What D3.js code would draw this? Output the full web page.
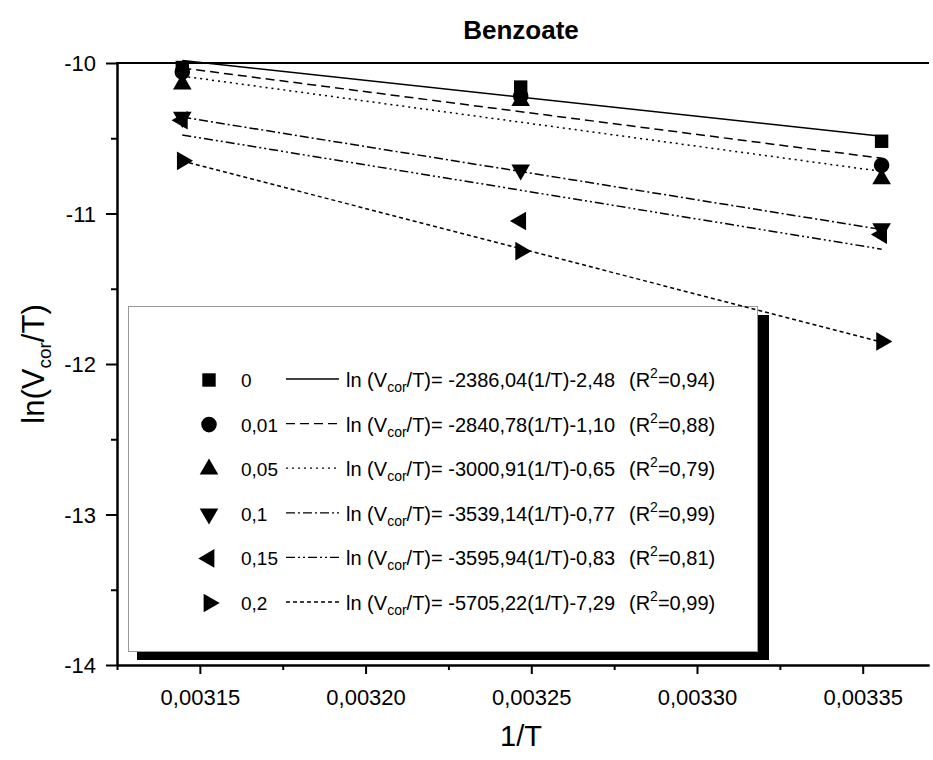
<!DOCTYPE html>
<html><head><meta charset="utf-8">
<script src="https://cdn.jsdelivr.net/npm/d3@7"></script>
<style>body{margin:0;background:#fff}svg{display:block;font-family:"Liberation Sans",Arial,sans-serif}</style>
</head><body><svg id="c" width="933" height="760"></svg>
<script>
// ---- data ----
const invT = [0.0031447, 0.0032468, 0.0033557];
const seriesNames = ["0", "0,01", "0,05", "0,1", "0,15", "0,2"];
const valuesS0 = [-10.03, -10.16, -10.52];
const valuesS1 = [-10.06, -10.22, -10.68];
const valuesS2 = [-10.14, -10.25, -10.77];
const valuesS3 = [-10.36, -10.71, -11.10];
const valuesS4 = [-10.38, -11.05, -11.14];
const valuesS5 = [-10.65, -11.25, -11.85];
const seriesValues = [valuesS0, valuesS1, valuesS2, valuesS3, valuesS4, valuesS5];
const slopes = [-2386.04, -2840.78, -3000.91, -3539.14, -3595.94, -5705.22];
const intercepts = [-2.48, -1.10, -0.65, 0.77, 0.83, 7.29];
const equationTexts = ["-2386,04(1/T)-2,48", "-2840,78(1/T)-1,10", "-3000,91(1/T)-0,65", "-3539,14(1/T)-0,77", "-3595,94(1/T)-0,83", "-5705,22(1/T)-7,29"];
const r2Texts = ["0,94", "0,88", "0,79", "0,99", "0,81", "0,99"];
const xTickValues = [0.00315, 0.00320, 0.00325, 0.00330, 0.00335];
const xTickLabels = ["0,00315", "0,00320", "0,00325", "0,00330", "0,00335"];
const xMinorTicks = [0.003125, 0.003175, 0.003225, 0.003275, 0.003325];
const yTickValues = [-10, -11, -12, -13, -14];
const yTickLabels = ["-10", "-11", "-12", "-13", "-14"];
const yMinorTicks = [-10.5, -11.5, -12.5, -13.5];

// ---- styles ----
const dashes = [null, "9,5", "2,4", "9,3,2,3", "9,3,2,3,2,3", "4,3"];
const symbols = [
  {t: d3.symbolSquare, r: 0, s: 180},
  {t: d3.symbolCircle, r: 0, s: 190},
  {t: d3.symbolTriangle, r: 0, s: 150},
  {t: d3.symbolTriangle, r: 180, s: 150},
  {t: d3.symbolTriangle, r: -90, s: 150},
  {t: d3.symbolTriangle, r: 90, s: 150}
];
const FONT = "'Liberation Sans',Arial,sans-serif";

const svg = d3.select("#c");
const x = d3.scaleLinear().domain([0.003125, 0.00337]).range([117, 929]);
const y = d3.scaleLinear().domain([-14, -10]).range([665, 63]);

// title
svg.append("text").attr("x", 521).attr("y", 39).attr("text-anchor", "middle")
  .attr("font-size", 26).attr("font-weight", "bold").text("Benzoate");

// legend (drawn beneath the data)
const lg = svg.append("g");
lg.append("rect").attr("x", 137).attr("y", 315).attr("width", 632).attr("height", 345).attr("fill", "#000");
lg.append("rect").attr("x", 128.5).attr("y", 306.5).attr("width", 629).attr("height", 345)
  .attr("fill", "#fff").attr("stroke", "#999").attr("stroke-width", 1);
const rowY = d3.scaleLinear().domain([0, 5]).range([380, 603]);
seriesNames.forEach((nm, i) => {
  const ry = rowY(i);
  lg.append("path").attr("d", d3.symbol().type(symbols[i].t).size(symbols[i].s)())
    .attr("transform", `translate(209,${ry}) rotate(${symbols[i].r})`).attr("fill", "#000");
  lg.append("text").attr("x", 241).attr("y", ry + 7).attr("font-size", 19).text(nm);
  lg.append("line").attr("x1", 286).attr("x2", 339).attr("y1", ry - 1).attr("y2", ry - 1)
    .attr("stroke", "#000").attr("stroke-width", 1.3).attr("stroke-dasharray", dashes[i]);
  const t = lg.append("text").attr("x", 346).attr("y", ry + 7).attr("font-size", 20);
  t.append("tspan").text("ln (V");
  t.append("tspan").attr("font-size", 14).attr("dy", 5).text("cor");
  t.append("tspan").attr("dy", -5).text("/T)= " + equationTexts[i]);
  const r = lg.append("text").attr("x", 629).attr("y", ry + 7).attr("font-size", 20);
  r.append("tspan").text("(R");
  r.append("tspan").attr("font-size", 14).attr("dy", -9).text("2");
  r.append("tspan").attr("dy", 9).text("=" + r2Texts[i] + ")");
});

// fit lines
const line = d3.line().x(d => x(d[0])).y(d => y(d[1]));
slopes.forEach((m, i) => {
  const xs = [invT[0], invT[invT.length - 1]];
  svg.append("path").attr("d", line(xs.map(v => [v, m * v + intercepts[i]])))
    .attr("fill", "none").attr("stroke", "#000").attr("stroke-width", 1.5)
    .attr("stroke-dasharray", dashes[i]);
});

// points
seriesValues.forEach((vals, i) => {
  svg.append("g").selectAll("path").data(vals).join("path")
    .attr("d", d3.symbol().type(symbols[i].t).size(symbols[i].s)())
    .attr("transform", (d, j) => `translate(${x(invT[j])},${y(d)}) rotate(${symbols[i].r})`)
    .attr("fill", "#000");
});

// axes
const xAxis = svg.append("g").attr("transform", "translate(0,665)")
  .call(d3.axisBottom(x).tickValues(xTickValues).tickFormat((d, i) => xTickLabels[i]).tickSize(9).tickSizeOuter(0));
const xMinor = svg.append("g").attr("transform", "translate(0,665)")
  .call(d3.axisBottom(x).tickValues(xMinorTicks).tickFormat("").tickSize(5).tickSizeOuter(0));
const yAxis = svg.append("g").attr("transform", "translate(117,0)")
  .call(d3.axisLeft(y).tickValues(yTickValues).tickFormat((d, i) => yTickLabels[i]).tickSize(11).tickSizeOuter(0));
const yMinor = svg.append("g").attr("transform", "translate(117,0)")
  .call(d3.axisLeft(y).tickValues(yMinorTicks).tickFormat("").tickSize(6).tickSizeOuter(0));
[xAxis, xMinor, yAxis, yMinor].forEach(g => {
  g.selectAll("path.domain").attr("stroke", "#000").attr("stroke-width", 2);
  g.selectAll(".tick line").attr("stroke", "#000").attr("stroke-width", 2);
  g.selectAll("text").attr("font-family", FONT).attr("font-size", 22).attr("fill", "#000");
});
xAxis.selectAll("text").attr("y", 0).attr("dy", 0).attr("transform", "translate(0,40)");
yAxis.selectAll("text").attr("x", -21).attr("dy", "0.36em");
// top frame line
svg.append("line").attr("x1", 116).attr("x2", 929).attr("y1", y(-10)).attr("y2", y(-10))
  .attr("stroke", "#000").attr("stroke-width", 2);

// axis titles
svg.append("text").attr("x", 521).attr("y", 746).attr("text-anchor", "middle").attr("font-size", 29).text("1/T");
const yl = svg.append("text").attr("transform", "translate(44,364) rotate(-90)").attr("text-anchor", "middle").attr("font-size", 31);
yl.append("tspan").text("ln(V");
yl.append("tspan").attr("font-size", 19).attr("dy", 7).text("cor");
yl.append("tspan").attr("dy", -7).text("/T)");
</script></body></html>
